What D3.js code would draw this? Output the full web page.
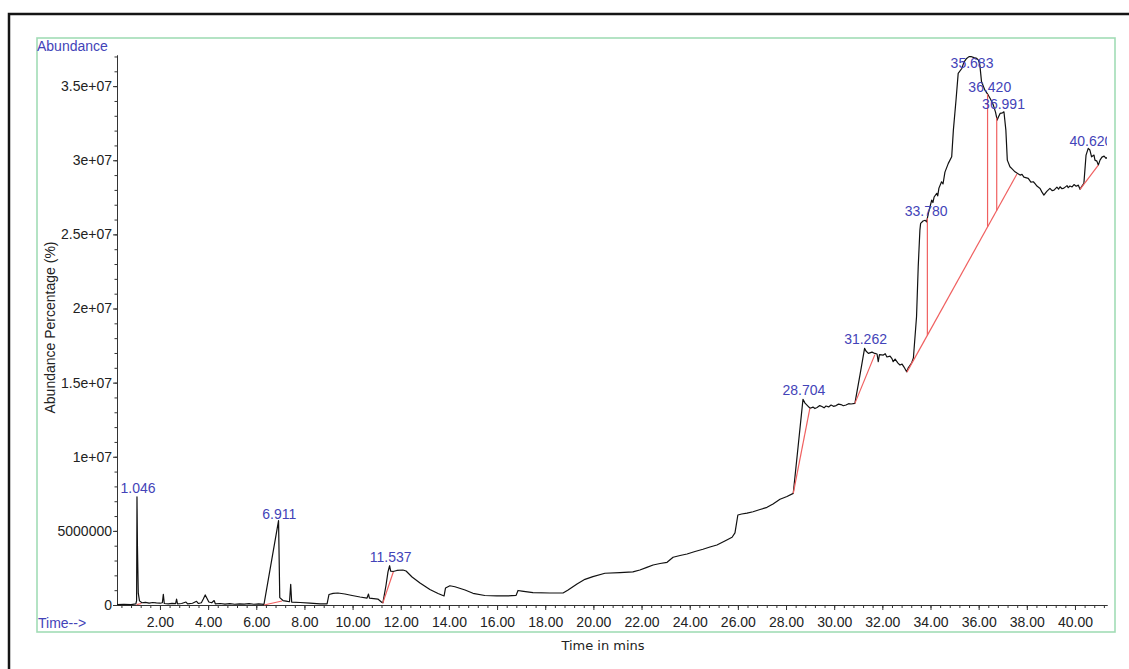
<!DOCTYPE html>
<html><head><meta charset="utf-8">
<script src="https://cdn.jsdelivr.net/npm/d3@7"></script>
<style>body{margin:0;background:#fff;} svg{display:block;}</style>
</head><body>
<svg id="c" width="1129" height="669"></svg>
<script>
// ---- data (time in minutes, abundance in millions of counts) ----
const UNIT = 1e6;
const times = [0.22,0.50,0.80,1.00,1.03,1.046,1.065,1.08,1.10,1.15,1.25,1.40,1.55,1.70,1.85,2.00,2.10,2.14,2.18,2.35,2.50,2.65,2.69,2.73,2.90,3.08,3.15,3.35,3.52,3.60,3.72,3.80,3.88,3.95,4.03,4.15,4.25,4.30,4.50,4.70,4.90,5.10,5.30,5.50,5.70,5.90,6.10,6.32,6.925,6.975,7.11,7.30,7.38,7.43,7.47,7.82,8.23,8.65,8.94,9.02,9.19,9.39,9.68,9.98,10.31,10.60,10.66,10.70,11.05,11.22,11.26,11.39,11.47,11.537,11.58,11.68,11.84,12.09,12.22,12.47,12.80,13.21,13.55,13.80,13.86,14.04,14.25,14.67,15.00,15.49,15.99,16.45,16.79,16.87,17.03,17.49,18.19,18.74,18.95,19.32,19.65,19.98,20.48,21.10,21.64,21.93,22.22,22.48,22.77,23.06,23.31,23.60,23.89,24.22,24.55,24.84,25.13,25.46,25.76,25.88,26.00,26.16,26.38,26.63,26.92,27.21,27.46,27.75,28.04,28.30,28.50,28.704,28.79,28.91,29.00,29.12,29.20,29.29,29.40,29.49,29.58,29.66,29.77,29.87,29.97,30.08,30.18,30.28,30.38,30.49,30.60,30.70,30.86,31.07,31.262,31.32,31.42,31.57,31.69,31.78,31.83,31.88,32.04,32.12,32.19,32.32,32.40,32.45,32.53,32.65,32.73,32.82,32.90,33.01,33.07,33.22,33.29,33.42,33.49,33.56,33.59,33.69,33.78,33.84,33.91,34.05,34.10,34.15,34.26,34.30,34.35,34.46,34.52,34.60,34.74,34.88,34.95,35.06,35.15,35.30,35.39,35.50,35.60,35.683,35.80,35.92,35.99,36.05,36.12,36.26,36.40,36.49,36.61,36.70,36.77,36.82,36.89,36.991,37.05,37.13,37.19,37.30,37.40,37.51,37.62,37.72,37.80,37.88,38.06,38.17,38.27,38.35,38.42,38.55,38.63,38.71,38.78,38.84,38.96,39.05,39.13,39.25,39.32,39.38,39.46,39.54,39.67,39.72,39.79,39.88,39.96,40.05,40.14,40.21,40.29,40.37,40.46,40.55,40.62,40.69,40.79,40.83,40.91,40.97,41.04,41.12,41.21,41.29,41.33];
const abundanceM = [0.02,0.04,0.03,0.08,0.30,7.30,4.0,2.6,0.8,0.28,0.15,0.18,0.13,0.17,0.14,0.12,0.15,0.72,0.10,0.08,0.11,0.09,0.40,0.08,0.10,0.20,0.07,0.12,0.25,0.10,0.15,0.40,0.68,0.45,0.20,0.15,0.30,0.08,0.10,0.06,0.09,0.05,0.08,0.06,0.09,0.05,0.08,0.04,5.69,0.50,0.30,0.24,0.22,1.40,0.20,0.17,0.13,0.07,0.07,0.71,0.78,0.81,0.74,0.64,0.54,0.47,0.74,0.47,0.40,0.17,0.16,1.35,2.23,2.65,2.29,2.26,2.33,2.36,2.29,1.89,1.49,1.05,0.78,0.61,1.15,1.30,1.23,1.01,0.79,0.64,0.61,0.61,0.65,0.98,0.94,0.83,0.81,0.81,1.01,1.42,1.73,1.91,2.14,2.19,2.23,2.36,2.54,2.70,2.80,2.88,3.22,3.34,3.44,3.61,3.76,3.91,4.05,4.32,4.57,4.86,6.07,6.14,6.20,6.29,6.44,6.59,6.81,7.13,7.32,7.53,10.66,13.87,13.62,13.42,13.27,13.35,13.25,13.32,13.45,13.39,13.30,13.42,13.36,13.49,13.40,13.45,13.55,13.52,13.44,13.49,13.58,13.56,13.60,15.51,17.31,17.13,16.97,17.06,16.97,16.93,16.41,16.89,16.86,16.95,16.73,16.79,16.62,16.41,16.59,16.32,16.19,16.25,16.05,15.73,15.98,16.34,16.66,19.44,22.82,25.29,25.74,25.90,25.95,25.85,26.42,27.31,27.15,27.52,27.77,27.60,28.12,28.55,28.40,29.20,29.79,30.23,32.03,34.06,35.86,36.19,36.62,36.87,36.99,37.00,36.92,36.87,36.75,36.42,35.29,34.73,34.39,34.13,33.72,33.25,32.71,32.91,33.16,33.20,33.27,32.03,30.01,29.56,29.40,29.22,29.10,29.00,29.05,28.86,28.78,28.53,28.55,28.40,28.26,28.10,27.85,27.65,27.80,27.92,28.10,27.95,27.99,28.19,28.05,28.21,28.08,28.12,28.29,28.15,28.26,28.20,28.36,28.25,28.32,28.04,28.26,28.44,30.35,30.80,30.69,30.23,30.35,30.01,29.94,29.67,30.01,30.21,30.28,30.12,30.20];

// peak labels (retention times)
const peakLabels = ["1.046","6.911","11.537","28.704","31.262","33.780","35.683","36.420","36.991","40.620"];

// integration baselines (red)
const baseStartT = [1.03, 6.32, 11.25, 28.30, 30.86, 33.02, 40.21];
const baseStartM = [0.02, 0.00, 0.11, 7.53, 13.60, 15.71, 28.04];
const baseEndT   = [1.23, 7.07, 11.69, 28.99, 31.69, 37.59, 40.97];
const baseEndM   = [0.10, 0.27, 2.23, 13.27, 16.89, 29.07, 29.67];
// peak-split drop lines (time, index of baseline they stand on)
const dropTimes = [33.87, 36.37, 36.75];
const dropBase  = [5, 5, 5];

// axis ticks
const xMajorTicks = d3.range(2, 41, 2);
const xMinorTicks = d3.range(1, 104).map(i => i * 0.4);
const yTickValues = [0, 5e6, 1e7, 1.5e7, 2e7, 2.5e7, 3e7, 3.5e7];
const yTickLabels = ["0","5000000","1e+07","1.5e+07","2e+07","2.5e+07","3e+07","3.5e+07"];
const yMinorTicks = d3.range(1, 38).map(i => i * 1e6);

// ---- drawing ----
const svg = d3.select('#c');
const font = '"Liberation Sans", Arial, Helvetica, sans-serif';
const blue = '#4343b8';

const x = d3.scaleLinear().domain([0.216, 41.33]).range([117, 1107]);
const y = d3.scaleLinear().domain([0, 37.1e6]).range([605, 55]);

const data = times.map((t, i) => ({t, v: abundanceM[i] * UNIT}));
const bis = d3.bisector(d => d.t).left;
function curveAt(t) {
  const i = Math.max(1, Math.min(data.length - 1, bis(data, t)));
  const a = data[i - 1], b = data[i];
  const k = (t - a.t) / (b.t - a.t);
  return a.v + (b.v - a.v) * k;
}

// outer frame
svg.append('rect').attr('x', 9).attr('y', 14).attr('width', 1200).attr('height', 700)
  .attr('fill', 'none').attr('stroke', '#151515').attr('stroke-width', 2.5);
// green panel
svg.append('rect').attr('x', 37).attr('y', 38).attr('width', 1078).attr('height', 594)
  .attr('fill', 'none').attr('stroke', '#a2dcb6').attr('stroke-width', 1.6);

const axStyle = g => {
  g.selectAll('path,line').attr('stroke', '#333').attr('stroke-width', 1);
  g.selectAll('text').attr('fill', '#222').style('font-family', font).style('font-size', '14px');
};

// x axis
svg.append('g').attr('transform', 'translate(0,605)')
  .call(d3.axisBottom(x).tickValues(xMinorTicks.filter(t => t > 0.216 && t < 41.33)).tickSize(3).tickSizeOuter(0).tickFormat(''))
  .call(axStyle);
svg.append('g').attr('transform', 'translate(0,605)')
  .call(d3.axisBottom(x).tickValues(xMajorTicks).tickSize(5).tickSizeOuter(0).tickPadding(7).tickFormat(d3.format('.2f')))
  .call(axStyle);

// y axis
svg.append('g').attr('transform', 'translate(117,0)')
  .call(d3.axisLeft(y).tickValues(yMinorTicks).tickSize(2.5).tickSizeOuter(0).tickFormat(''))
  .call(axStyle);
svg.append('g').attr('transform', 'translate(117,0)')
  .call(d3.axisLeft(y).tickValues(yTickValues).tickSize(4).tickSizeOuter(0).tickPadding(1)
    .tickFormat((d, i) => yTickLabels[i]))
  .call(axStyle);

// clip for plot contents
svg.append('clipPath').attr('id', 'plotclip').append('rect')
  .attr('x', 117).attr('y', 40).attr('width', 990).attr('height', 570);

const plot = svg.append('g').attr('clip-path', 'url(#plotclip)');

// chromatogram
plot.append('path').datum(data)
  .attr('d', d3.line().x(d => x(d.t)).y(d => y(d.v)))
  .attr('fill', 'none').attr('stroke', '#111').attr('stroke-width', 1.2)
  .attr('stroke-linejoin', 'round');

// integration baselines
baseStartT.forEach((t0, i) => {
  plot.append('line')
    .attr('x1', x(t0)).attr('y1', y(baseStartM[i] * UNIT))
    .attr('x2', x(baseEndT[i])).attr('y2', y(baseEndM[i] * UNIT))
    .attr('stroke', '#f06060').attr('stroke-width', 1.2);
});
dropTimes.forEach((t, i) => {
  const b = dropBase[i];
  const k = (t - baseStartT[b]) / (baseEndT[b] - baseStartT[b]);
  const vb = (baseStartM[b] + (baseEndM[b] - baseStartM[b]) * k) * UNIT;
  plot.append('line')
    .attr('x1', x(t)).attr('y1', y(curveAt(t)))
    .attr('x2', x(t)).attr('y2', y(vb))
    .attr('stroke', '#f06060').attr('stroke-width', 1.2);
});

// peak labels
peakLabels.forEach(s => {
  const t = +s;
  const ly = Math.max(y(curveAt(t)) - 4, 55 + 13);
  plot.append('text').attr('x', x(t) + 1).attr('y', ly)
    .attr('text-anchor', 'middle').attr('fill', blue)
    .style('font-family', font).style('font-size', '14px').text(s);
});

// captions
svg.append('text').attr('x', 37).attr('y', 50.5).attr('fill', blue)
  .style('font-family', font).style('font-size', '14px').text('Abundance');
svg.append('text').attr('x', 38).attr('y', 628).attr('fill', blue)
  .style('font-family', font).style('font-size', '14px').text('Time-->');
svg.append('text').attr('transform', 'translate(55,327.5) rotate(-90)')
  .attr('text-anchor', 'middle').attr('fill', '#222')
  .style('font-family', font).style('font-size', '14px').text('Abundance Percentage (%)');
svg.append('text').attr('x', 603).attr('y', 650).attr('text-anchor', 'middle').attr('fill', '#222')
  .style('font-family', '"DejaVu Sans", sans-serif').style('font-size', '13px').text('Time in mins');
</script>
</body></html>
